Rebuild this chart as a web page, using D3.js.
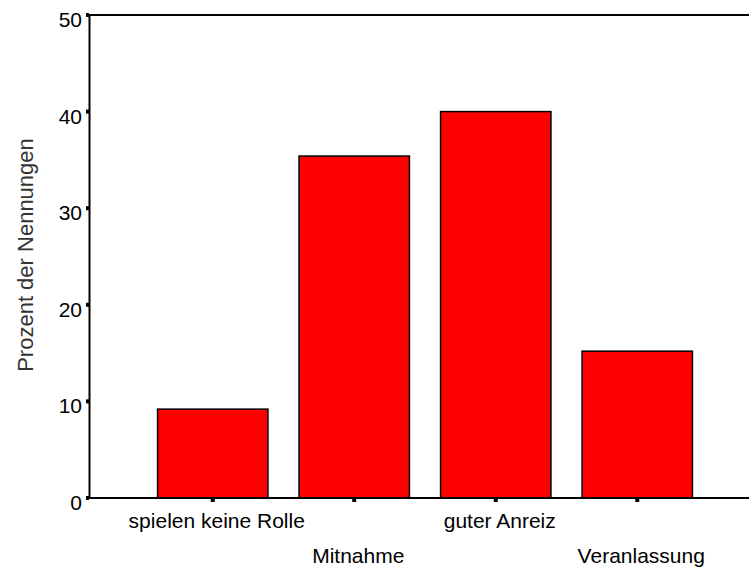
<!DOCTYPE html>
<html><head><meta charset="utf-8">
<script src="https://cdn.jsdelivr.net/npm/d3@7"></script>
<style>body{margin:0;background:#fff}svg{display:block}text{font-family:"Liberation Sans",Arial,sans-serif}</style>
</head><body>
<script>
const categories = ["spielen keine Rolle","Mitnahme","guter Anreiz","Veranlassung"];
const values = [9.2, 35.4, 40.0, 15.2];
const yTicks = [0,10,20,30,40,50];

const W=749,H=567;
const svg=d3.select("body").append("svg").attr("width",W).attr("height",H);
const y=d3.scaleLinear().domain([0,50]).range([498,15]);
const x=d3.scaleBand().domain(categories).range([142,708]).paddingInner(0.22).paddingOuter(0.11);

svg.selectAll("rect.bar").data(values).enter().append("rect")
  .attr("x",(d,i)=>x(categories[i])).attr("width",x.bandwidth())
  .attr("y",d=>y(d)).attr("height",d=>y(0)-y(d))
  .attr("fill","#ff0000").attr("stroke","#000").attr("stroke-width",1.5);

// frame lines
svg.append("line").attr("x1",89.5).attr("x2",89.5).attr("y1",y(50)).attr("y2",y(0)+1).attr("stroke","#000").attr("stroke-width",2);
svg.append("line").attr("x1",89).attr("x2",W).attr("y1",y(50)).attr("y2",y(50)).attr("stroke","#000").attr("stroke-width",2);
svg.append("line").attr("x1",89).attr("x2",W).attr("y1",y(0)).attr("y2",y(0)).attr("stroke","#000").attr("stroke-width",2);

// y ticks
const yax=svg.append("g");
yTicks.forEach(t=>{
  yax.append("rect").attr("x",86).attr("y",y(t)-2).attr("width",3).attr("height",4).attr("fill","#000");
  yax.append("text").attr("x",82).attr("y",y(t)+12).attr("text-anchor","end").attr("font-size",21).attr("fill","#000").text(t);
});

// x ticks + labels
categories.forEach((c,i)=>{
  const cx=x(c)+x.bandwidth()/2;
  svg.append("rect").attr("x",cx-2).attr("y",499).attr("width",4).attr("height",3).attr("fill","#000");
  svg.append("text").attr("x",cx+4).attr("y",i%2===0?528:563).attr("text-anchor","middle").attr("font-size",21).attr("fill","#000").text(c);
});

svg.append("text").attr("transform","translate(33,255) rotate(-90)").attr("text-anchor","middle")
  .attr("font-size",22).attr("fill","#333").text("Prozent der Nennungen");
</script>
</body></html>
